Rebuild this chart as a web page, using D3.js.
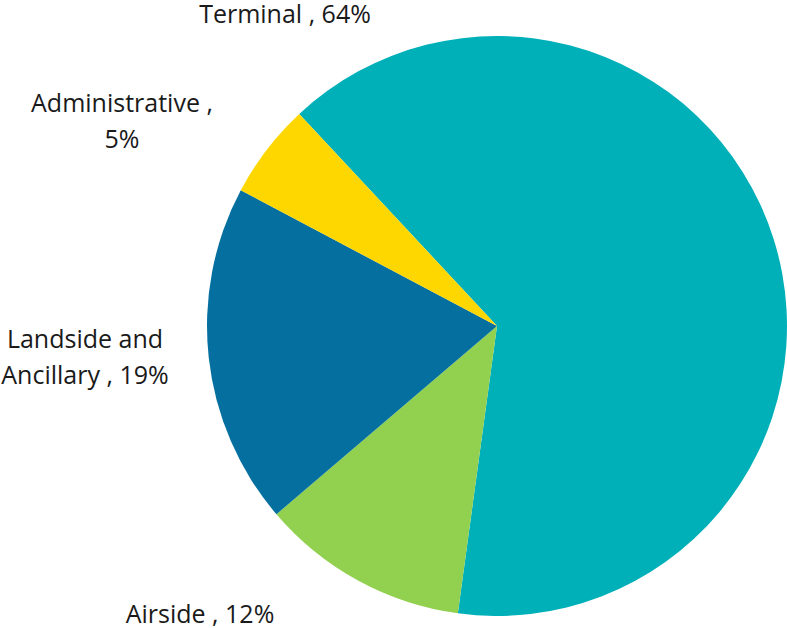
<!DOCTYPE html>
<html>
<head>
<meta charset="utf-8">
<script src="https://cdn.jsdelivr.net/npm/d3@7"></script>
<style>
  body { margin: 0; background: #fff; }
  text { font-family: "Open Sans", sans-serif; font-size: 25px; fill: #1a1a1a; }
</style>
</head>
<body>
<svg id="chart" width="787" height="628"></svg>
<script>
// Share of area by function (%)
const categories = ["Terminal", "Airside", "Landside and Ancillary", "Administrative"];
const shares = [64.1, 11.6, 19.0, 5.3];
const colors = ["#00B0B9", "#92D050", "#05709F", "#FFD700"];

// label lines and where they sit (layout, not data)
const labelLines = [
    ["Terminal , 64%"],
    ["Airside , 12%"],
    ["Landside and", "Ancillary , 19%"],
    ["Administrative ,", "5%"]
];
const labelAnchor = [[285, 23], [200, 623], [85, 348], [122, 112]];

const cx = 497, cy = 326, radius = 290;

const svg = d3.select("#chart");
const g = svg.append("g").attr("transform", `translate(${cx},${cy})`);

const startDeg = -43.0;
const pie = d3.pie()
    .sort(null)
    .value(d => d)
    .startAngle(startDeg * Math.PI / 180)
    .endAngle((startDeg + 360) * Math.PI / 180);

const arc = d3.arc().innerRadius(0).outerRadius(radius);

g.selectAll("path")
    .data(pie(shares))
    .enter()
    .append("path")
    .attr("d", arc)
    .attr("fill", (d, i) => colors[i]);

// Labels
categories.forEach((c, i) => {
    const t = svg.append("text")
        .attr("text-anchor", "middle")
        .attr("x", labelAnchor[i][0])
        .attr("y", labelAnchor[i][1]);
    labelLines[i].forEach((line, j) => {
        t.append("tspan")
            .attr("x", labelAnchor[i][0])
            .attr("dy", j === 0 ? 0 : 35.5)
            .text(line);
    });
});
</script>
</body>
</html>
